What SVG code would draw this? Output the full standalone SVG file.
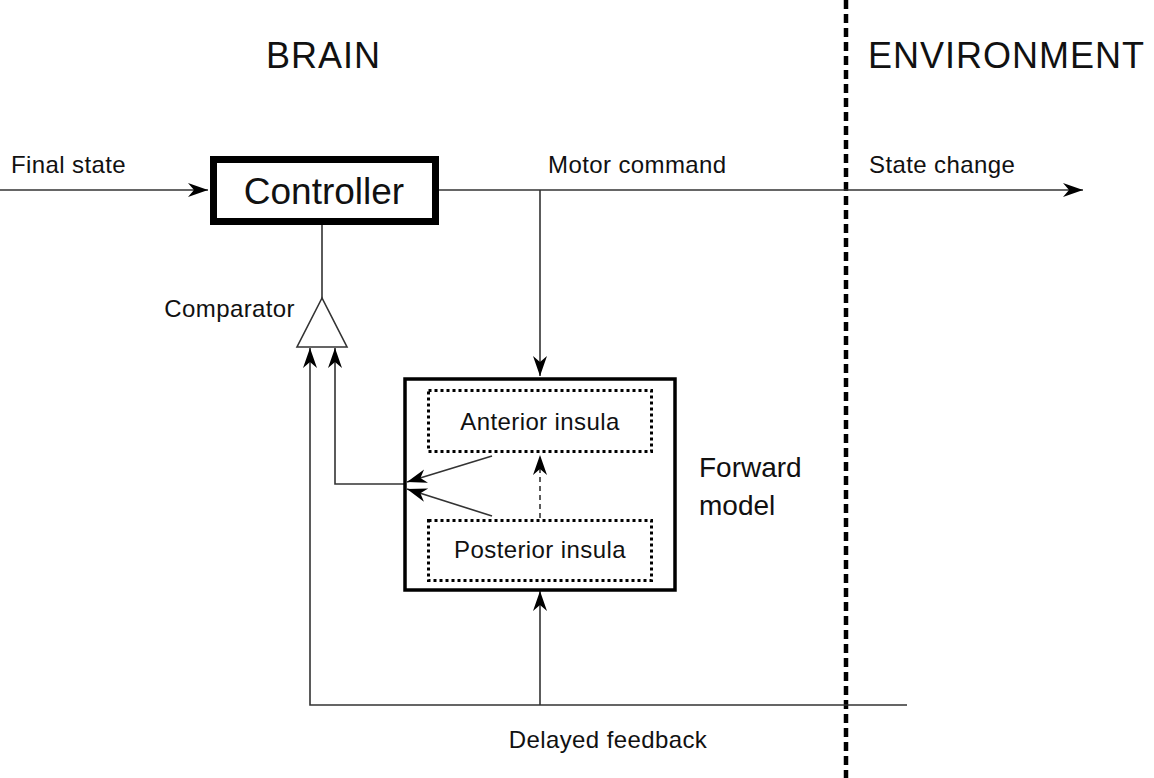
<svg xmlns="http://www.w3.org/2000/svg" width="1154" height="778" viewBox="0 0 1154 778">
  <defs>
    <style>
      text { font-family: "Liberation Sans", Arial, sans-serif; fill: #111; }
      .title { font-size: 36px; letter-spacing: 1px; }
      .label { font-size: 24px; letter-spacing: 0.4px; }
      .big { font-size: 28px; }
      .wire { fill: none; stroke: #333; stroke-width: 1.6; }
      .dotbox { fill: none; stroke: #000; stroke-width: 3; stroke-dasharray: 3 3; }
    </style>
    <marker id="arrow" markerUnits="userSpaceOnUse" markerWidth="22" markerHeight="16" refX="20" refY="7" orient="auto" viewBox="0 0 22 16">
      <path d="M0,0 L20,7 L0,14 L6,7 z" fill="#000"/>
    </marker>
  </defs>

  <rect width="1154" height="778" fill="#fff"/>

  <!-- region titles and boundary -->
  <text class="title" x="266" y="68">BRAIN</text>
  <text class="title" x="868" y="68">ENVIRONMENT</text>
  <line x1="846" y1="0" x2="846" y2="778" stroke="#000" stroke-width="4.5" stroke-dasharray="9 5"/>

  <!-- connectors -->
  <g id="connectors">
    <line class="wire" x1="0" y1="190" x2="208" y2="190" marker-end="url(#arrow)"/>
    <line class="wire" x1="439" y1="190" x2="1083" y2="190" marker-end="url(#arrow)"/>
    <line class="wire" x1="540" y1="190" x2="540" y2="376" marker-end="url(#arrow)"/>
    <line class="wire" x1="322" y1="225" x2="322" y2="298"/>
    <polyline class="wire" points="907,705 310,705 310,348" marker-end="url(#arrow)"/>
    <line class="wire" x1="540" y1="705" x2="540" y2="591" marker-end="url(#arrow)"/>
    <polyline class="wire" points="404,484 335,484 335,348" marker-end="url(#arrow)"/>
    <line class="wire" x1="492" y1="456" x2="407" y2="482" marker-end="url(#arrow)"/>
    <line class="wire" x1="492" y1="516" x2="407" y2="489" marker-end="url(#arrow)"/>
    <line class="wire" x1="540" y1="518" x2="540" y2="455" stroke-dasharray="5 4" marker-end="url(#arrow)"/>
  </g>

  <!-- connector labels -->
  <text class="label" x="11" y="173">Final state</text>
  <text class="label" x="548" y="173">Motor command</text>
  <text class="label" x="869" y="173">State change</text>
  <text class="label" x="608" y="748" text-anchor="middle">Delayed feedback</text>

  <g id="controller">
    <rect x="213.5" y="159.5" width="222" height="62" fill="#fff" stroke="#000" stroke-width="7"/>
    <text x="324" y="204" font-size="37" text-anchor="middle">Controller</text>
  </g>

  <g id="comparator">
    <polygon points="322,298 297,347 347,347" fill="#fff" stroke="#333" stroke-width="1.6"/>
    <text class="label" x="295" y="317" text-anchor="end">Comparator</text>
  </g>

  <g id="forward-model">
    <rect x="405" y="379" width="270" height="211" fill="none" stroke="#000" stroke-width="3.5"/>
    <text class="big" x="699" y="477">Forward</text>
    <text class="big" x="699" y="515">model</text>
  </g>

  <g id="anterior-insula">
    <rect class="dotbox" x="428.5" y="390.5" width="223" height="61"/>
    <text class="label" x="540" y="430" text-anchor="middle">Anterior insula</text>
  </g>

  <g id="posterior-insula">
    <rect class="dotbox" x="428.5" y="520.5" width="223" height="60"/>
    <text class="label" x="540" y="558" text-anchor="middle">Posterior insula</text>
  </g>
</svg>
